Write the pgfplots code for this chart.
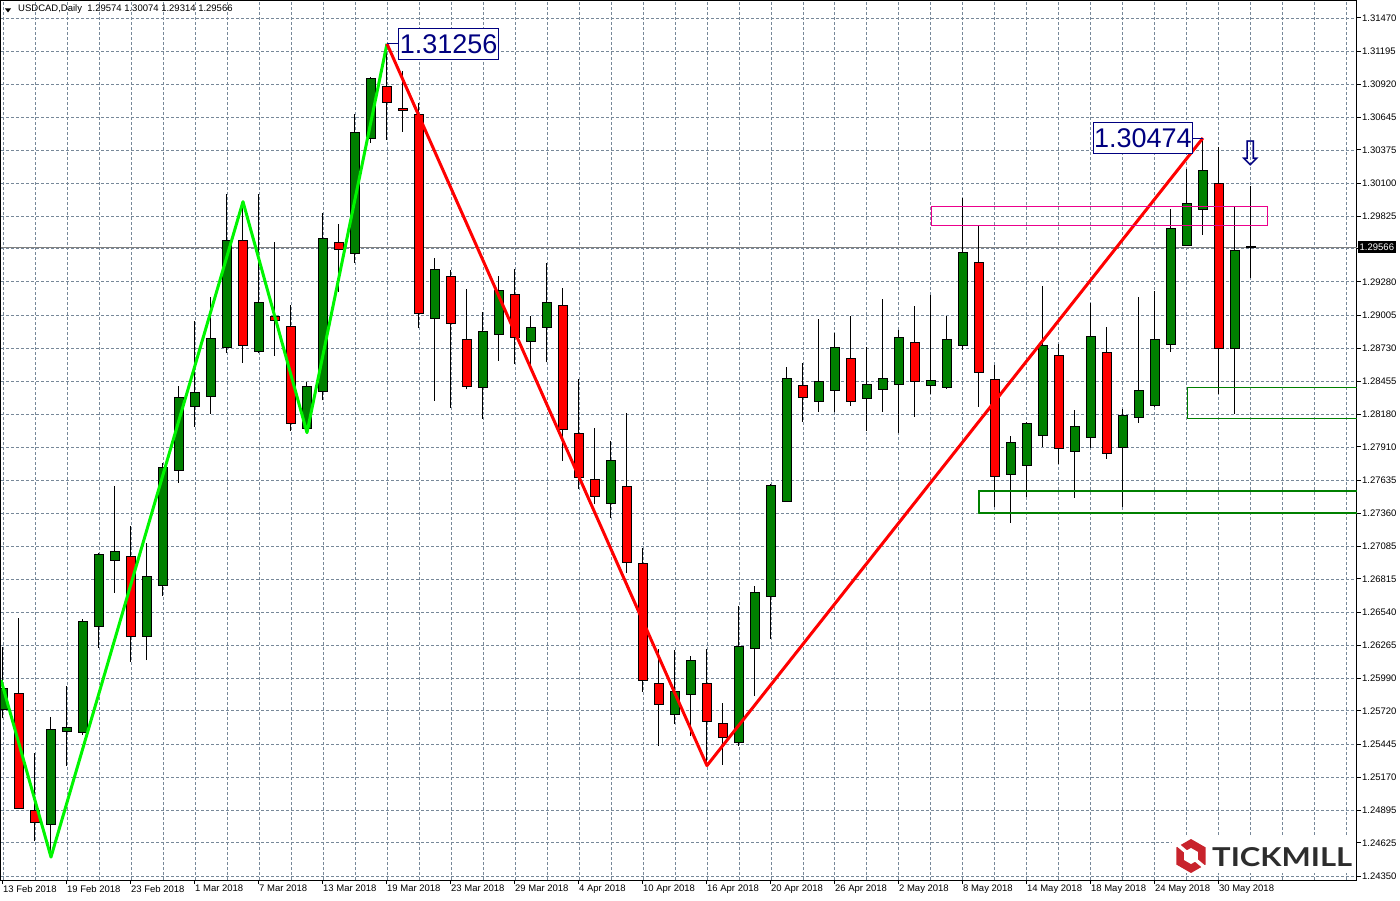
\documentclass[border=0pt]{standalone}
\usepackage{fontspec}
\setmainfont{Liberation Sans}
\newfontfamily\dejavu{DejaVu Sans}
\newfontfamily\logofont{Lato}
\usepackage{graphicx}
\usepackage{pgfplots}
\usepackage{pgfplotstable}
\pgfplotsset{compat=1.18}
\definecolor{cgreen}{RGB}{0,128,0}
\definecolor{cred}{RGB}{255,0,0}
\definecolor{zgreen}{RGB}{0,245,0}
\definecolor{gridc}{RGB}{119,136,153}
\definecolor{navyc}{RGB}{0,0,128}
\definecolor{tmred}{RGB}{200,35,44}
\definecolor{tmgray}{RGB}{45,45,45}
\definecolor{pricegray}{RGB}{128,128,128}

\pgfplotstableread{
i o h l c
0 1.25733 1.26253 1.25658 1.25907
1 1.25866 1.26488 1.24906 1.24911
2 1.24895 1.25373 1.24640 1.24795
3 1.24779 1.25669 1.24507 1.25567
4 1.25550 1.25926 1.25262 1.25584
5 1.25539 1.26480 1.25520 1.26463
6 1.26422 1.27030 1.26244 1.27020
7 1.26970 1.27586 1.26701 1.27044
8 1.27003 1.27254 1.26126 1.26339
9 1.26339 1.27111 1.26142 1.26837
10 1.26762 1.27775 1.26676 1.27742
11 1.27717 1.28416 1.27614 1.28323
12 1.28245 1.28958 1.28079 1.28364
13 1.28331 1.29155 1.28184 1.28812
14 1.28738 1.30010 1.28693 1.29626
15 1.29626 1.29946 1.28610 1.28754
16 1.28701 1.30010 1.28686 1.29111
17 1.28989 1.29612 1.28668 1.28962
18 1.28914 1.29091 1.28045 1.28104
19 1.28062 1.28452 1.28029 1.28414
20 1.28372 1.29850 1.28296 1.29642
21 1.29609 1.29761 1.29199 1.29551
22 1.29518 1.30672 1.29435 1.30522
23 1.30472 1.30979 1.30436 1.30970
24 1.30904 1.31256 1.30458 1.30771
25 1.30721 1.31031 1.30527 1.30705
26 1.30672 1.30763 1.28895 1.29020
27 1.28978 1.29479 1.28294 1.29385
28 1.29327 1.29379 1.28236 1.28937
29 1.28804 1.29224 1.28389 1.28414
30 1.28406 1.29028 1.28145 1.28870
31 1.28846 1.29329 1.28626 1.29211
32 1.29178 1.29388 1.28597 1.28817
33 1.28787 1.28997 1.28591 1.28904
34 1.28904 1.29440 1.28613 1.29111
35 1.29086 1.29227 1.27796 1.28057
36 1.28024 1.28475 1.27559 1.27655
37 1.27642 1.28065 1.27435 1.27501
38 1.27443 1.27962 1.27323 1.27800
39 1.27584 1.28192 1.26867 1.26953
40 1.26945 1.27069 1.25877 1.25972
41 1.25949 1.26231 1.25431 1.25775
42 1.25692 1.26225 1.25611 1.25882
43 1.25858 1.26175 1.25511 1.26140
44 1.25949 1.26234 1.25266 1.25633
45 1.25617 1.25785 1.25274 1.25501
46 1.25459 1.26590 1.25431 1.26256
47 1.26239 1.26754 1.25846 1.26704
48 1.26671 1.27603 1.26319 1.27592
49 1.27459 1.28577 1.27454 1.28480
50 1.28422 1.28610 1.28120 1.28323
51 1.28289 1.28973 1.28203 1.28455
52 1.28381 1.28859 1.28198 1.28738
53 1.28646 1.28997 1.28253 1.28289
54 1.28311 1.28743 1.28045 1.28431
55 1.28389 1.29139 1.28203 1.28480
56 1.28431 1.28881 1.28024 1.28821
57 1.28779 1.29080 1.28162 1.28455
58 1.28422 1.29172 1.28352 1.28464
59 1.28402 1.29000 1.28394 1.28804
60 1.28754 1.29974 1.28715 1.29526
61 1.29443 1.29744 1.28245 1.28530
62 1.28472 1.28593 1.27410 1.27667
63 1.27684 1.28001 1.27282 1.27949
64 1.27758 1.28118 1.27498 1.28107
65 1.28007 1.29246 1.27913 1.28754
66 1.28671 1.28765 1.27769 1.27899
67 1.27871 1.28217 1.27489 1.28082
68 1.27987 1.29108 1.27904 1.28829
69 1.28696 1.28906 1.27813 1.27854
70 1.27908 1.28225 1.27415 1.28173
71 1.28157 1.29153 1.28112 1.28381
72 1.28256 1.29207 1.28242 1.28798
73 1.28763 1.29886 1.28701 1.29725
74 1.29584 1.30218 1.29578 1.29933
75 1.29883 1.30474 1.29670 1.30207
76 1.30099 1.30403 1.28350 1.28729
77 1.28729 1.29905 1.28182 1.29543
78 1.29574 1.30074 1.29314 1.29566
}\candles

\begin{document}
\begin{tikzpicture}[x=1pt,y=1pt]
\useasboundingbox (0,0) rectangle (1400,900);
\begin{axis}[
  at={(1pt,20pt)}, anchor=south west,
  scale only axis, width=1356pt, height=879pt,
  xmin=-0.125, xmax=84.625,
  ymin=1.243168, ymax=1.316111,
  axis line style={black, line width=1pt},
  xtick={0,4,...,76},
  xticklabels={13 Feb 2018,19 Feb 2018,23 Feb 2018,1 Mar 2018,7 Mar 2018,13 Mar 2018,19 Mar 2018,23 Mar 2018,29 Mar 2018,4 Apr 2018,10 Apr 2018,16 Apr 2018,20 Apr 2018,26 Apr 2018,2 May 2018,8 May 2018,14 May 2018,18 May 2018,24 May 2018,30 May 2018},
  minor xtick={2,6,10,14,18,22,26,30,34,38,42,46,50,54,58,62,66,70,74,78,80,82,84},
  ytick={1.24350,1.24625,1.24895,1.25170,1.25445,1.25720,1.25990,1.26265,1.26540,1.26815,1.27085,1.27360,1.27635,1.27910,1.28180,1.28455,1.28730,1.29005,1.29280,1.29555,1.29825,1.30100,1.30375,1.30645,1.30920,1.31195,1.31470},
  yticklabels={1.24350,1.24625,1.24895,1.25170,1.25445,1.25720,1.25990,1.26265,1.26540,1.26815,1.27085,1.27360,1.27635,1.27910,1.28180,1.28455,1.28730,1.29005,1.29280,1.29555,1.29825,1.30100,1.30375,1.30645,1.30920,1.31195,1.31470},
  xtick pos=bottom, ytick pos=right, yticklabel pos=right,
  tick align=outside, major tick length=4pt, minor tick length=0pt,
  tick style={black, line width=1pt},
  grid=both,
  major grid style={gridc, line width=0.9pt, dash pattern=on 3pt off 2pt},
  minor grid style={gridc, line width=0.9pt, dash pattern=on 3pt off 2pt},
  tick label style={font=\fontsize{9.5}{10}\selectfont, inner sep=0pt},
  xticklabel style={anchor=north west, yshift=-1pt},
  yticklabel style={anchor=west, xshift=1pt},
]
% current price line
\addplot[pricegray, line width=1pt] coordinates {(-1,1.29566) (90,1.29566)};
% candles
\pgfplotsinvokeforeach{0,...,78}{%
  \pgfplotstablegetelem{#1}{o}\of\candles \let\cO\pgfplotsretval
  \pgfplotstablegetelem{#1}{h}\of\candles \let\cH\pgfplotsretval
  \pgfplotstablegetelem{#1}{l}\of\candles \let\cL\pgfplotsretval
  \pgfplotstablegetelem{#1}{c}\of\candles \let\cC\pgfplotsretval
  \pgfmathtruncatemacro\cUp{\cC>\cO}
  \ifnum\cUp=1 \def\cfill{cgreen}\else\def\cfill{cred}\fi
  \pgfmathsetmacro\xa{#1-0.28}
  \pgfmathsetmacro\xb{#1+0.28}
  \edef\doplot{%
    \noexpand\addplot[black, line width=1pt] coordinates {(#1,\cL) (#1,\cH)};
    \noexpand\addplot[draw=black, fill=\cfill, line width=1pt, line cap=rect, line join=miter] coordinates {(\xa,\cO) (\xb,\cO) (\xb,\cC) (\xa,\cC) (\xa,\cO)};
  }\doplot
}
% zigzag
\addplot[zgreen, line width=3pt, line join=round] coordinates {(-0.125,1.25976) (3,1.24507) (15,1.29946) (19,1.28029) (24,1.31256)};
\addplot[cred, line width=3pt, line join=round] coordinates {(24,1.31256) (44,1.25266) (75,1.30474)};
% zones
\addplot[magenta, line width=1pt] coordinates {(58.02,1.29906) (79.02,1.29906) (79.02,1.29750) (58.02,1.29750) (58.02,1.29906)};
\addplot[cgreen, line width=2pt] coordinates {(90,1.27547) (61,1.27547) (61,1.27365) (90,1.27365)};
\addplot[cgreen, line width=1pt] coordinates {(90,1.28406) (74.04,1.28406) (74.04,1.28148) (90,1.28148)};
% annotations
\draw[navyc, line width=1pt] (axis cs:24,1.31256) -- (axis cs:24.71,1.31256);
\node[draw=navyc, fill=white, text=navyc, line width=1pt, font=\fontsize{27}{27}\selectfont, inner xsep=1pt, inner ysep=0pt, minimum height=31pt, anchor=west] at (axis cs:24.71,1.31255) {1.31256};
\draw[navyc, line width=1pt] (axis cs:74.39,1.30474) -- (axis cs:75,1.30474);
\node[draw=navyc, fill=white, text=navyc, line width=1pt, font=\fontsize{27}{27}\selectfont, inner xsep=1pt, inner ysep=0pt, minimum height=31pt, anchor=east] at (axis cs:74.39,1.30472) {1.30474};
\node[text=navyc, font=\dejavu\fontsize{34}{34}\selectfont, inner sep=0pt] at (axis cs:78,1.30342) {⇩};
\end{axis}
% current price box
\node[fill=black, text=white, font=\fontsize{9.5}{10}\selectfont, inner xsep=1.5pt, inner ysep=0pt, minimum height=12pt, anchor=west] at (1358,653) {1.29566};
% header
\fill (5,891.5) -- (11,891.5) -- (8,887.5) -- cycle;
\node[anchor=west, inner sep=0pt, font=\fontsize{9.5}{10}\selectfont] at (18,890.5) {USDCAD,Daily\ \ 1.29574 1.30074 1.29314 1.29566};
% logo
\fill[white] (1172,27) rectangle (1354,65);
\begin{scope}[shift={(1191,44)}]
  \fill[tmred] (90:17) -- (150:17) -- (210:17) -- (270:17) -- (330:17) -- (30:17) -- cycle;
  \fill[white] (90:8) -- (150:8) -- (210:8) -- (270:8) -- (330:8) -- (30:8) -- cycle;
  \draw[white, line width=3.5pt] (140:4) -- (140:20);
  \draw[white, line width=3.5pt] (320:4) -- (320:20);
\end{scope}
\node[anchor=west, inner sep=0pt, text=tmgray] at (1212,42.5) {\resizebox{140pt}{19pt}{\logofont\bfseries TICKMILL}};
\end{tikzpicture}
\end{document}
